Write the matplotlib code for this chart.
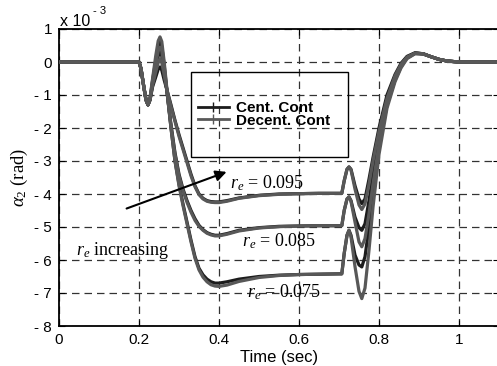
import matplotlib
matplotlib.use("Agg")
import matplotlib.pyplot as plt
from matplotlib.lines import Line2D
from matplotlib.patches import Rectangle

plt.rcParams['font.family'] = ['Liberation Sans', 'DejaVu Sans']
plt.rcParams['mathtext.fontset'] = 'custom'
plt.rcParams['mathtext.rm'] = 'Liberation Serif'
plt.rcParams['mathtext.it'] = 'Liberation Serif:italic'
plt.rcParams['mathtext.bf'] = 'Liberation Serif:bold'

# time (sec)
t = [0, 0.2, 0.205, 0.212, 0.2175, 0.2225, 0.2275, 0.234, 0.242, 0.248, 0.2525, 0.257, 0.263,
     0.27, 0.28, 0.29, 0.30, 0.31, 0.32, 0.33, 0.34, 0.35, 0.36, 0.37, 0.38, 0.39, 0.40,
     0.42, 0.45, 0.50, 0.55, 0.60, 0.65, 0.70,
     0.707, 0.713, 0.72, 0.725, 0.73, 0.74, 0.75, 0.757, 0.765, 0.775, 0.785, 0.80,
     0.82, 0.84, 0.855, 0.87, 0.89, 0.91, 0.93, 0.95, 0.97, 1.0, 1.1]

# alpha_2 (x 1e-3 rad)
cent_095 = [0, 0, -0.2, -0.75, -1.15, -1.3, -1.15, -0.75, -0.45, -0.22, -0.15, -0.25, -0.55,
            -0.85, -1.3, -1.77, -2.2, -2.6, -3.0, -3.4, -3.75, -4.0, -4.13, -4.2, -4.23, -4.24, -4.24,
            -4.2, -4.12, -4.04, -4.0, -3.99, -3.98, -3.98,
            -3.98, -3.6, -3.25, -3.18, -3.25, -3.75, -4.15, -4.29, -4.15, -3.55, -2.9, -2.0,
            -1.0, -0.38, -0.04, 0.17, 0.28, 0.25, 0.16, 0.08, 0.03, 0, 0]
dec_095 = [0, 0, -0.2, -0.75, -1.15, -1.3, -1.15, -0.7, -0.3, -0.02, 0.1, -0.02, -0.4,
           -0.85, -1.35, -1.8, -2.25, -2.65, -3.05, -3.45, -3.78, -4.02, -4.15, -4.22, -4.25, -4.26, -4.26,
           -4.22, -4.13, -4.05, -4.01, -3.99, -3.98, -3.98,
           -3.98, -3.6, -3.25, -3.18, -3.27, -3.85, -4.33, -4.47, -4.3, -3.7, -3.0, -2.1,
           -1.1, -0.42, -0.07, 0.15, 0.27, 0.25, 0.16, 0.08, 0.03, 0, 0]
cent_085 = [0, 0, -0.2, -0.75, -1.15, -1.3, -1.15, -0.65, -0.15, 0.18, 0.3, 0.18, -0.3,
            -0.9, -1.9, -2.75, -3.4, -3.85, -4.2, -4.5, -4.75, -4.95, -5.08, -5.17, -5.22, -5.25, -5.25,
            -5.2, -5.1, -5.02, -4.98, -4.97, -4.96, -4.96,
            -4.96, -4.5, -4.15, -4.09, -4.2, -4.7, -5.02, -5.1, -4.9, -4.2, -3.4, -2.3,
            -1.15, -0.45, -0.08, 0.15, 0.27, 0.25, 0.16, 0.08, 0.03, 0, 0]
dec_085 = [0, 0, -0.2, -0.75, -1.15, -1.3, -1.15, -0.6, -0.05, 0.33, 0.45, 0.33, -0.2,
           -0.9, -1.95, -2.8, -3.45, -3.9, -4.25, -4.55, -4.8, -4.98, -5.1, -5.19, -5.24, -5.27, -5.27,
           -5.22, -5.12, -5.03, -4.99, -4.97, -4.96, -4.96,
           -4.96, -4.5, -4.15, -4.09, -4.22, -4.85, -5.45, -5.6, -5.35, -4.6, -3.7, -2.5,
           -1.25, -0.5, -0.12, 0.13, 0.26, 0.25, 0.16, 0.08, 0.03, 0, 0]
cent_075 = [0, 0, -0.2, -0.75, -1.15, -1.3, -1.12, -0.55, 0.05, 0.48, 0.6, 0.47, -0.1,
            -0.9, -2.0, -3.0, -3.7, -4.3, -4.85, -5.4, -5.9, -6.25, -6.45, -6.58, -6.66, -6.7, -6.7,
            -6.66, -6.58, -6.5, -6.46, -6.44, -6.43, -6.42,
            -6.42, -5.8, -5.25, -5.1, -5.25, -5.85, -6.15, -6.21, -5.9, -5.0, -4.0, -2.6,
            -1.3, -0.55, -0.15, 0.12, 0.26, 0.25, 0.16, 0.08, 0.03, 0, 0]
dec_075 = [0, 0, -0.2, -0.75, -1.15, -1.3, -1.1, -0.5, 0.2, 0.64, 0.76, 0.62, 0.0,
           -0.85, -2.0, -3.0, -3.75, -4.35, -4.9, -5.45, -5.95, -6.3, -6.52, -6.66, -6.75, -6.79, -6.8,
           -6.76, -6.65, -6.53, -6.47, -6.44, -6.43, -6.42,
           -6.42, -5.8, -5.25, -5.1, -5.3, -6.2, -6.95, -7.17, -6.85, -5.7, -4.4, -2.8,
           -1.4, -0.6, -0.18, 0.1, 0.25, 0.24, 0.16, 0.08, 0.03, 0, 0]

cent_series = [cent_095, cent_085, cent_075]
dec_series = [dec_095, dec_085, dec_075]
legend_labels = ['Cent. Cont', 'Decent. Cont']
re_labels = [r'$r_e$ = 0.095', r'$r_e$ = 0.085', r'$r_e$ = 0.075']
re_pos = [(0.4275, -3.84), (0.457, -5.6), (0.469, -7.12)]

xticks = [0, 0.2, 0.4, 0.6, 0.8, 1.0]
xtick_labels = ['0', '0.2', '0.4', '0.6', '0.8', '1']
yticks = [1, 0, -1, -2, -3, -4, -5, -6, -7, -8]
ytick_labels = ['1', '0', '- 1', '- 2', '- 3', '- 4', '- 5', '- 6', '- 7', '- 8']

C_CENT = '#1c1c1c'
C_DEC = '#585858'

fig = plt.figure(figsize=(4.97, 3.66), dpi=100)
ax = fig.add_axes([59/497, 40/366, 440/497, 297/366])

for c in cent_series:
    ax.plot(t, c, color=C_CENT, lw=2.3, solid_joinstyle='round', zorder=3)
for d in dec_series:
    ax.plot(t, d, color=C_DEC, lw=2.3, solid_joinstyle='round', zorder=3)

ax.set_xlim(0, 1.1)
ax.set_ylim(-8, 1)
ax.set_xticks(xticks)
ax.set_xticklabels(xtick_labels)
ax.set_yticks(yticks)
ax.set_yticklabels(ytick_labels)
ax.tick_params(direction='in', length=4, labelsize=11, top=True, right=True, pad=5)
ax.grid(True, color='#333333', linestyle=(0, (6, 4)), linewidth=0.9)
for s in ax.spines.values():
    s.set_linewidth(1.3)

ax.set_xlabel('Time (sec)', fontsize=12, labelpad=2)
ax.set_ylabel(r'$\alpha_2$ (rad)', fontsize=13.5, family=['Liberation Serif'], labelpad=3)

fig.text(60/497, 1 - 26/366, 'x 10', fontsize=11.5, va='baseline')
fig.text(93/497, 1 - 14/366, '- 3', fontsize=8, va='baseline')

# legend box
ax.add_patch(Rectangle((0.3, 0.569), 0.357, 0.286, transform=ax.transAxes,
                       fill=False, edgecolor='black', lw=1.0, zorder=5))
handles = [Line2D([], [], color=C_CENT, lw=2.0, marker='|', markersize=7, markevery=[1]),
           Line2D([], [], color=C_DEC, lw=2.0, marker='|', markersize=7, markevery=[1])]
leg = ax.legend(handles, legend_labels, loc='center left', bbox_to_anchor=(0.316, 0.7125),
                frameon=False, borderpad=0, borderaxespad=0, handlelength=2.0,
                handletextpad=0.5, labelspacing=-0.08,
                prop={'family': 'Liberation Sans', 'weight': 'bold', 'size': 11})

for lab, (x, y) in zip(re_labels, re_pos):
    ax.text(x, y, lab, fontsize=13, va='baseline', ha='left', zorder=4,
            family=['Liberation Serif'])
ax.text(0.0425, -5.86, r'$r_e$ increasing', fontsize=13, va='baseline', ha='left',
        family=['Liberation Serif'])

ax.annotate('', xy=(0.419, -3.33), xytext=(0.169, -4.44),
            arrowprops=dict(arrowstyle='-|>', color='black', lw=1.5, mutation_scale=16,
                            shrinkA=0, shrinkB=0))

fig.savefig('out.png', dpi=100)
